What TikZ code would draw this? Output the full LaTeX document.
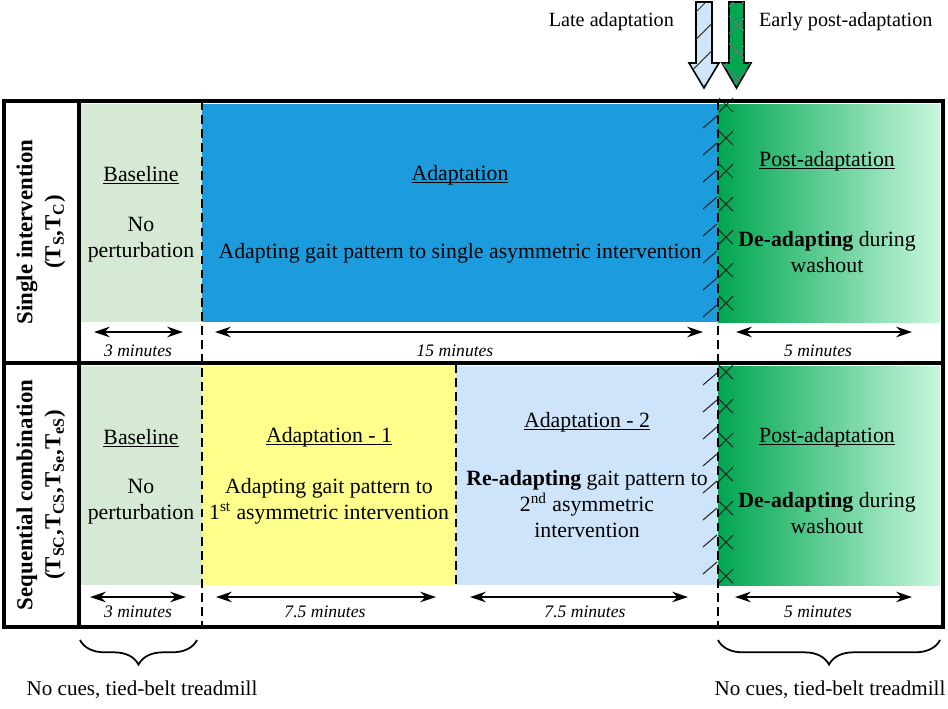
\documentclass[tikz,border=0pt]{standalone}
\usepackage{fontspec}
\setmainfont{Liberation Serif}
\usetikzlibrary{arrows.meta,patterns.meta,decorations.pathreplacing,positioning}

\definecolor{baseGreen}{RGB}{214,233,213}
\definecolor{adaptBlue}{RGB}{29,156,221}
\definecolor{adaptYellow}{RGB}{255,255,140}
\definecolor{adaptLight}{RGB}{205,228,250}
\definecolor{postGreen}{RGB}{0,166,80}
\definecolor{postLight}{RGB}{200,247,222}
\definecolor{arrowBlue}{RGB}{208,230,248}

% underline close to the baseline
\newcommand{\phaseul}[1]{\setbox0\hbox{#1}\rlap{\rule[-1.5pt]{\wd0}{0.55pt}}\box0}

\tikzset{
  phasetext/.style={font=\fontsize{12.4}{14.6}\selectfont, align=center, inner sep=1pt},
  toptext/.style={font=\fontsize{11.5}{13.6}\selectfont, inner sep=1pt},
  rowlabel/.style={font=\fontsize{13}{15}\selectfont\bfseries, rotate=90, inner sep=1pt},
  durtext/.style={font=\fontsize{10}{11}\selectfont\itshape, inner sep=1pt},
  durarrow/.style={<->, >={Stealth[length=9pt,width=6pt]}, line width=0.8pt},
  border/.style={line width=2pt},
  phaseline/.style={line width=1.3pt, dash pattern=on 5pt off 3pt},
  hatchmark/.style={line width=0.6pt, black!85},
  marker/.style={line width=0.9pt, draw=black},
  cuebrace/.style={decorate, decoration={brace, amplitude=14pt, mirror}, line width=1pt},
}

\begin{document}
\begin{tikzpicture}[x=0.02cm, y=-0.02cm]
  \useasboundingbox (0,0) rectangle (948,708);

  %%%%% FILLS %%%%%
  \fill[baseGreen] (80,104) rectangle (202,322);
  \fill[adaptBlue] (202,104) rectangle (718,322);
  \shade[left color=postGreen, right color=postLight] (718,104) rectangle (940,322);

  \fill[baseGreen] (80,366) rectangle (202,585);
  \fill[adaptYellow] (202,366) rectangle (456,585);
  \fill[adaptLight] (456,366) rectangle (718,585);
  \shade[left color=postGreen, right color=postLight] (718,366) rectangle (940,585);

  %%%%% HATCHING AT THE PHASE CHANGE %%%%%
  \foreach \y in {128,155,...,320}
    \draw[hatchmark] (703,\y) -- (717,\y-12);
  \foreach \y in {105,138,...,315}
    \draw[hatchmark] (719,\y-7) -- (733,\y+7) (719,\y+7) -- (733,\y-7);
  \foreach \y in {385,412,...,585}
    \draw[hatchmark] (703,\y) -- (717,\y-12);
  \foreach \y in {372,406,...,580}
    \draw[hatchmark] (719,\y-7) -- (733,\y+7) (719,\y+7) -- (733,\y-7);

  %%%%% PHASE BOUNDARIES %%%%%
  \draw[phaseline] (202,101) -- (202,627);
  \draw[phaseline] (718,101) -- (718,627);
  \draw[phaseline] (456,364) -- (456,585);

  %%%%% FRAME %%%%%
  \draw[border] (4,101) rectangle (943,627);
  \draw[border] (79,101) -- (79,627);
  \draw[border] (4,363) -- (943,363);

  %%%%% ROW LABELS %%%%%
  \node[rowlabel] (singleRow) at (27,232) {Single intervention};
  \node[rowlabel] (singleSet) at (55,232) {(T\textsubscript{S},T\textsubscript{C})};
  \node[rowlabel] (seqRow) at (27,495) {Sequential combination};
  \node[rowlabel] (seqSet) at (55,495) {(T\textsubscript{SC},T\textsubscript{CS},T\textsubscript{Se},T\textsubscript{eS})};

  %%%%% SINGLE INTERVENTION %%%%%
  \node[phasetext] (baseTopName) at (141,175) {\phaseul{Baseline}};
  \node[phasetext] (baseTopInfo) at (141,240) {No\\perturbation};
  \node[phasetext] (adaptTopName) at (460,175) {\phaseul{Adaptation}};
  \node[phasetext] (adaptTopInfo) at (460,253) {Adapting gait pattern to single asymmetric intervention};
  \node[phasetext] (postTopName) at (827,161) {\phaseul{Post-adaptation}};
  \node[phasetext] (postTopInfo) at (827,252) {\textbf{De-adapting} during\\washout};

  \draw[durarrow] (94,332) -- (183,332);
  \node[durtext] (baseTopTime) at (138,351) {3 minutes};
  \draw[durarrow] (215,332) -- (703,332);
  \node[durtext] (adaptTopTime) at (455,351) {15 minutes};
  \draw[durarrow] (736,332) -- (912,332);
  \node[durtext] (postTopTime) at (818,351) {5 minutes};

  %%%%% SEQUENTIAL COMBINATION %%%%%
  \node[phasetext] (baseBotName) at (141,438) {\phaseul{Baseline}};
  \node[phasetext] (baseBotInfo) at (141,502) {No\\perturbation};
  \node[phasetext] (adaptOneName) at (329,437) {\phaseul{Adaptation - 1}};
  \node[phasetext] (adaptOneInfo) at (329,501) {Adapting gait pattern to\\1\textsuperscript{st} asymmetric intervention};
  \node[phasetext] (adaptTwoName) at (587,422) {\phaseul{Adaptation - 2}};
  \node[phasetext] (adaptTwoInfo) at (587,504) {\textbf{Re-adapting} gait pattern to\\2\textsuperscript{nd} asymmetric\\intervention};
  \node[phasetext] (postBotName) at (827,437) {\phaseul{Post-adaptation}};
  \node[phasetext] (postBotInfo) at (827,513) {\textbf{De-adapting} during\\washout};

  \draw[durarrow] (90,597) -- (186,597);
  \node[durtext] (baseBotTime) at (138,612) {3 minutes};
  \draw[durarrow] (216,597) -- (436,597);
  \node[durtext] (adaptOneTime) at (325,612) {7.5 minutes};
  \draw[durarrow] (470,597) -- (688,597);
  \node[durtext] (adaptTwoTime) at (585,612) {7.5 minutes};
  \draw[durarrow] (735,597) -- (912,597);
  \node[durtext] (postBotTime) at (818,612) {5 minutes};

  %%%%% MARKERS ABOVE %%%%%
  \draw[marker, fill=arrowBlue]
    (696,2) -- (712,2) -- (712,63) -- (719,63) -- (704,88) -- (689,63) -- (696,63) -- cycle;
  \fill[pattern={Lines[angle=45,distance=11pt,line width=0.6pt]}, pattern color=black!80]
    (696,2) -- (712,2) -- (712,63) -- (719,63) -- (704,88) -- (689,63) -- (696,63) -- cycle;
  \draw[marker, fill=postGreen]
    (729,2) -- (744,2) -- (744,63) -- (751,63) -- (736.5,88) -- (722,63) -- (729,63) -- cycle;
  \fill[pattern={Lines[angle=45,distance=11pt,line width=0.6pt]}, pattern color=black!55]
    (729,2) -- (744,2) -- (744,63) -- (751,63) -- (736.5,88) -- (722,63) -- (729,63) -- cycle;
  \fill[pattern={Lines[angle=-45,distance=11pt,line width=0.6pt]}, pattern color=black!55]
    (729,2) -- (744,2) -- (744,63) -- (751,63) -- (736.5,88) -- (722,63) -- (729,63) -- cycle;
  \node[toptext, anchor=east] (lateLabel) at (676,22) {Late adaptation};
  \node[toptext, anchor=west] (earlyLabel) at (757,22) {Early post-adaptation};

  %%%%% CUES %%%%%
  \coordinate (cueLeftA) at (80,640);
  \coordinate (cueLeftB) at (197,640);
  \coordinate (cueRightA) at (718,640);
  \coordinate (cueRightB) at (940,640);
  \draw[cuebrace] (cueLeftA) -- (cueLeftB);
  \draw[cuebrace] (cueRightA) -- (cueRightB);
  \node[toptext, font=\fontsize{12}{14}\selectfont] (cueLeft) at (142,690) {No cues, tied-belt treadmill};
  \node[toptext, font=\fontsize{12}{14}\selectfont] (cueRight) at (830,690) {No cues, tied-belt treadmill};
\end{tikzpicture}
\end{document}
